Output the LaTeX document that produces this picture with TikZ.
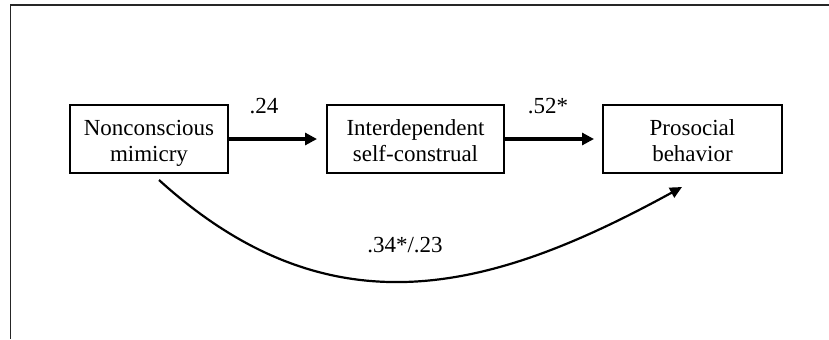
\documentclass[tikz,border=0pt]{standalone}
\usepackage{fontspec}
\setmainfont{Liberation Serif}
\usetikzlibrary{arrows.meta}

\tikzset{
  varbox/.style={draw,line width=1pt,align=center,inner sep=0pt,
    minimum height=34pt,text height=24pt,text depth=1.5pt,
    font=\fontsize{11.5}{13}\selectfont},
  coef/.style={anchor=base,inner sep=0pt,font=\fontsize{11.5}{13}\selectfont},
  patharrow/.style={line width=1.8pt,-{Triangle[length=6pt,width=6pt]}},
  curvearrow/.style={line width=1.1pt,-{Triangle[length=6pt,width=5.5pt]}}
}

\begin{document}
\begin{tikzpicture}[x=0.5pt,y=-0.5pt]
    \useasboundingbox (0,0) rectangle (829,339);
    \draw[line width=0.7pt,black!85] (829,5) -- (10.5,5) -- (10.5,339);

    \node[varbox,minimum width=79pt] (mimicry) at (149,139) {Nonconscious\\mimicry};
    \node[varbox,minimum width=88.5pt] (construal) at (415.5,139) {Interdependent\\self-construal};
    \node[varbox,minimum width=89.5pt] (prosocial) at (692.5,139) {Prosocial\\behavior};

    \draw[patharrow,shorten >=4.5pt] (mimicry) -- (construal);
    \draw[patharrow,shorten >=4pt] (construal) -- (prosocial);
    \node[coef] (a) at (264,113.5) {.24};
    \node[coef] (b) at (548,113.5) {.52*};

    \coordinate (from) at (159,180);
    \coordinate (to) at (682,187);
    \draw[curvearrow] (from) .. controls (331,336) and (492,291) .. (to);
    \node[coef] (c) at (405,252) {.34*/.23};
\end{tikzpicture}
\end{document}
